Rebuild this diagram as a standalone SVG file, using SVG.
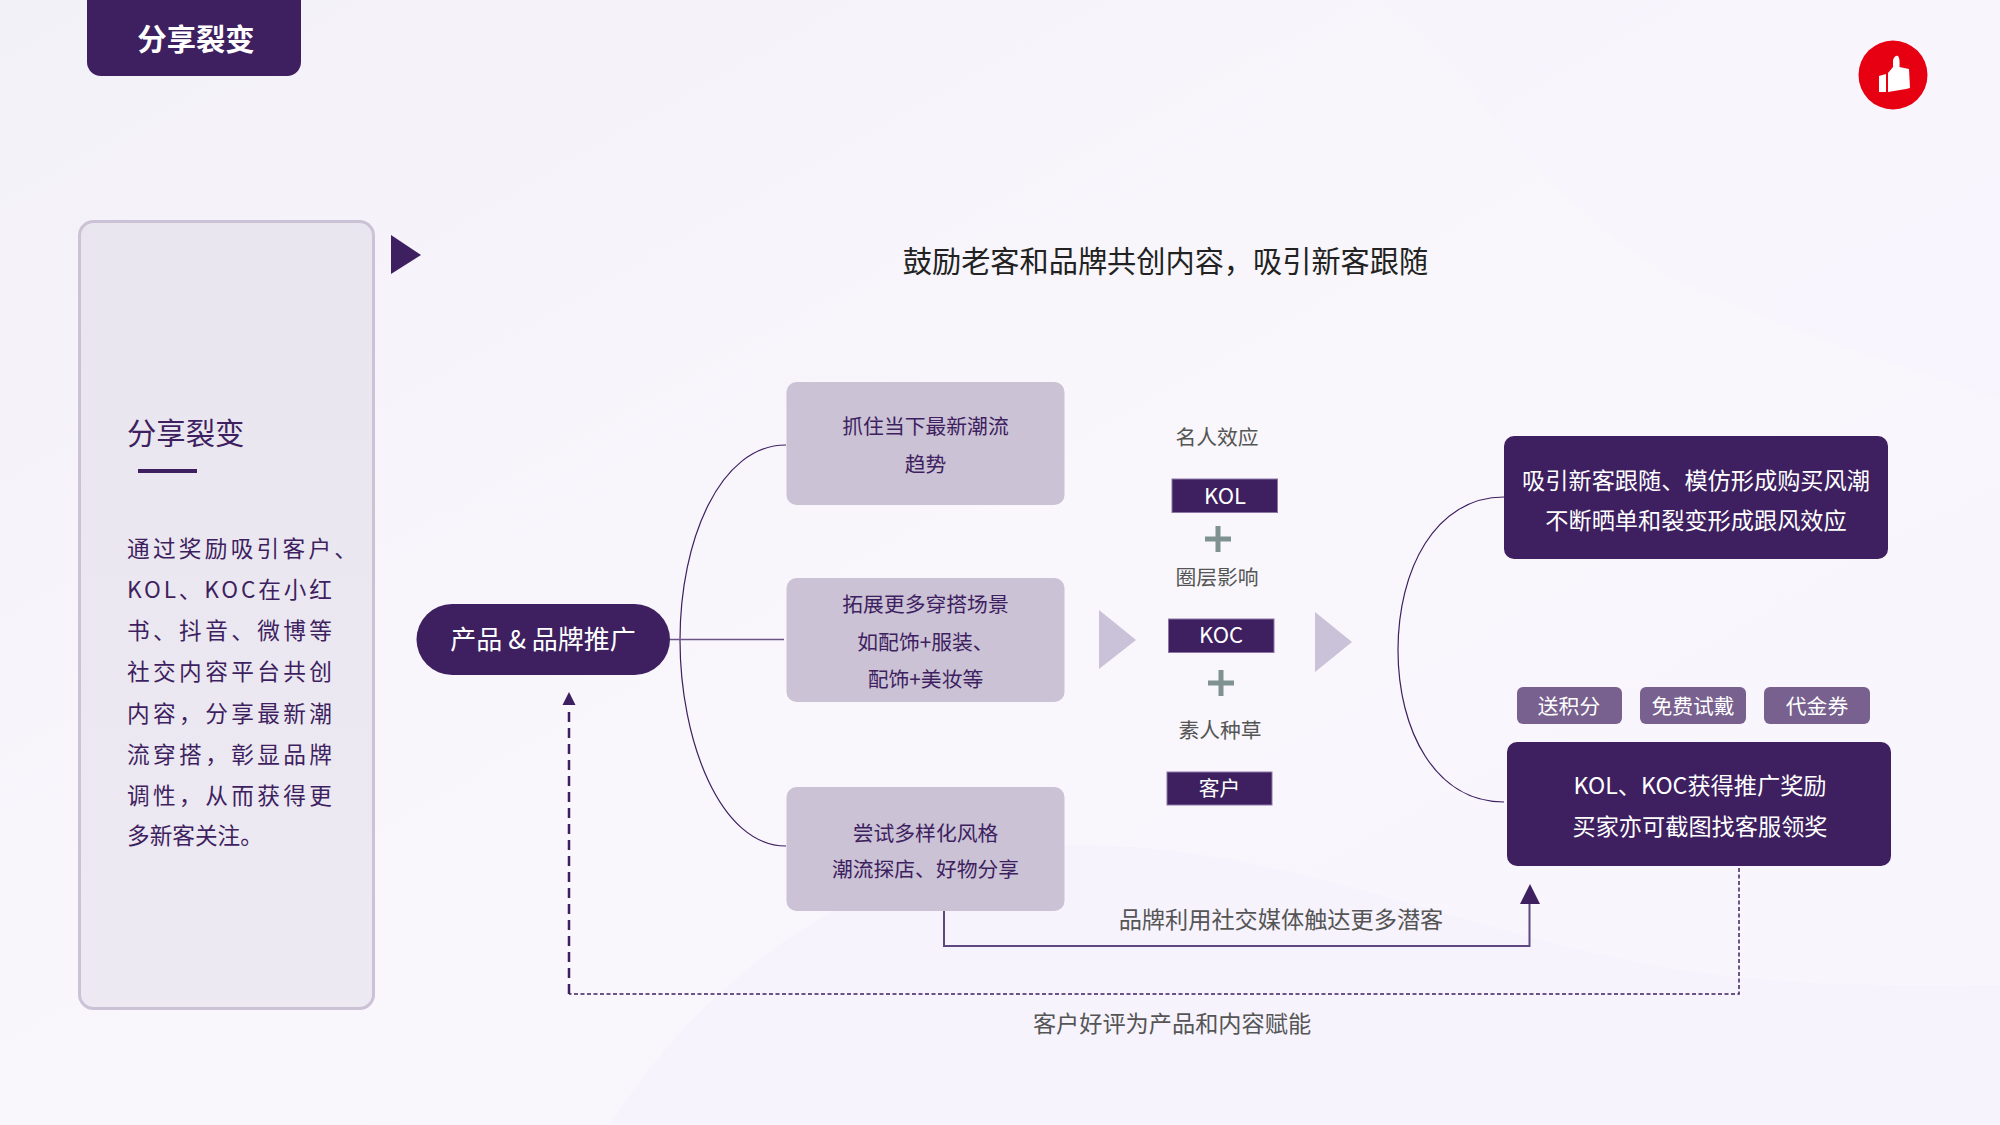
<svg xmlns="http://www.w3.org/2000/svg" width="2000" height="1125" viewBox="0 0 2000 1125">
<defs>
<linearGradient id="bg" x1="0" y1="0" x2="1" y2="1"><stop offset="0" stop-color="#f3f1f8"/><stop offset="0.5" stop-color="#f9f7fc"/><stop offset="1" stop-color="#f8f5fd"/></linearGradient>
<linearGradient id="pf" x1="0" y1="0" x2="0" y2="1"><stop offset="0" stop-color="#e8e4ee"/><stop offset="1" stop-color="#ece8f2"/></linearGradient>
</defs>
<style>
text{font-family:"Noto Sans CJK SC","Noto Sans",sans-serif;text-anchor:middle}
.dark{fill:#3e1f60}
.box{fill:#cbc2d6}
.tag{fill:#3e1f60;stroke:#8d76a6;stroke-width:1}
.chip{fill:#78608f}
.w{fill:#fff}
.p{fill:#3e1f60}
.g{fill:#555}
.t21{font-size:20.8px}
.t22{font-size:22px}
.t23{font-size:23.2px}
.t26{font-size:26px}
.body{font-size:22.67px;text-anchor:start;fill:#3e1f60}
.plus{stroke:#7f9191;stroke-width:5;fill:none}
.tri{fill:#c9c2d8}
.c{fill:none;stroke:#3e1f60;stroke-width:1.2}
</style>
<rect width="2000" height="1125" fill="url(#bg)"/>
<path d="M1380 0C1480 80 1560 230 1700 290C1800 335 1920 370 2000 400V0Z" fill="#f8f4fd" opacity=".8"/>
<path d="M610 1125C720 950 900 845 1080 845C1300 845 1500 950 1720 975C1830 988 1930 985 2000 985V1125Z" fill="#f7f3fd"/>
<g id="header"><path d="M87 0H301V62a14 14 0 0 1-14 14H101a14 14 0 0 1-14-14Z" class="dark"/><text x="196" y="50" class="w" font-size="29.33" font-weight="700">分享裂变</text></g>
<g id="like"><circle cx="1893" cy="75" r="34.5" fill="#e60012"/><path d="M1879 76L1886 74V92L1879 92Z M1888 73L1893 67L1893 60Q1895 55 1898 56Q1900 58 1899.500 67L1909 69L1910 88L1906 89L1888 92Z" fill="#fff"/></g>
<g id="panel"><rect x="79.500" y="221.500" width="294" height="787" rx="14" fill="url(#pf)" fill-opacity=".9" stroke="#cbc2d6" stroke-width="3"/>
<text x="127" y="444" class="p" font-size="29.33" style="text-anchor:start">分享裂变</text>
<rect x="138" y="469" width="59" height="4" class="dark"/>
<text x="127" y="557" class="body" textLength="230">通过奖励吸引客户、</text>
<text x="127" y="598" class="body" textLength="205">KOL、KOC在小红</text>
<text x="127" y="639" class="body" textLength="205">书、抖音、微博等</text>
<text x="127" y="680" class="body" textLength="205">社交内容平台共创</text>
<text x="127" y="722" class="body" textLength="205">内容，分享最新潮</text>
<text x="127" y="763" class="body" textLength="205">流穿搭，彰显品牌</text>
<text x="127" y="804" class="body" textLength="205">调性，从而获得更</text>
<text x="127" y="844" class="body">多新客关注。</text></g>
<g id="title"><path d="M391 235L421 255L391 274Z" class="dark"/><text x="1165.500" y="272" font-size="29.2" fill="#222">鼓励老客和品牌共创内容，吸引新客跟随</text></g>
<g id="connectors">
<path class="c" d="M786 445C720 445 680 540 680 640C680 740 720 846 786 846"/>
<path d="M670 639.500H784" fill="none" stroke="#6b5484" stroke-width="1.600"/>
<path class="c" d="M1504 497C1435 497 1398 570 1398 650C1398 730 1435 802 1504 802"/>
<path d="M944 911V946H1529.500V900" fill="none" stroke="#5f4880" stroke-width="2"/><path d="M1530 884L1540 904H1520Z" class="dark"/>
<path d="M569 994V708" fill="none" stroke="#3e1f60" stroke-width="2.500" stroke-dasharray="10 6"/><path d="M569 692L575.500 705H562.500Z" class="dark"/>
<path d="M1739 868V994H569" fill="none" stroke="#3e1f60" stroke-width="1.500" stroke-dasharray="4 2.500"/>
</g>
<g id="brand"><rect x="416.500" y="604" width="253.500" height="71" rx="35.500" class="dark"/><text x="543" y="649" class="w t26">产品 &amp; 品牌推广</text></g>
<g id="b1"><rect x="786.500" y="382" width="278" height="123" rx="10" class="box"/><text x="925.500" y="434" class="p t21">抓住当下最新潮流</text><text x="925.500" y="472" class="p t21">趋势</text></g>
<g id="b2"><rect x="786.500" y="578" width="278" height="124" rx="10" class="box"/><text x="925.500" y="612" class="p t21">拓展更多穿搭场景</text><text x="925.500" y="650" class="p t21">如配饰+服装、</text><text x="925.500" y="687" class="p t21">配饰+美妆等</text></g>
<g id="b3"><rect x="786.500" y="787" width="278" height="124" rx="10" class="box"/><text x="925.500" y="841" class="p t21">尝试多样化风格</text><text x="925.500" y="877" class="p t21">潮流探店、好物分享</text></g>
<g id="arrows"><path d="M1099 610L1136 640L1099 669Z" class="tri"/><path d="M1315 612L1352 642L1315 672Z" class="tri"/></g>
<g id="mid">
<text x="1217" y="445" class="g t21">名人效应</text>
<g id="kol"><rect x="1172" y="479" width="105.500" height="33.500" class="tag"/><text x="1225" y="504" class="w t22">KOL</text></g>
<path class="plus" d="M1205 539H1231M1218 526V552"/>
<text x="1217" y="585" class="g t21">圈层影响</text>
<g id="koc"><rect x="1168.500" y="619" width="105.500" height="33.500" class="tag"/><text x="1221" y="643" class="w t22">KOC</text></g>
<path class="plus" d="M1208 683H1234M1221 670V696"/>
<text x="1220" y="738" class="g t21">素人种草</text>
<g id="cust"><rect x="1167" y="772" width="105" height="33" class="tag"/><text x="1219.500" y="796" class="w t21">客户</text></g>
</g>
<g id="r1"><rect x="1504" y="436" width="384" height="123" rx="10" class="dark"/><text x="1696" y="489" class="w t23">吸引新客跟随、模仿形成购买风潮</text><text x="1696" y="529" class="w t23">不断晒单和裂变形成跟风效应</text></g>
<g id="chips">
<g><rect x="1517" y="687" width="105" height="37" rx="6" class="chip"/><text x="1569" y="714" class="w t21">送积分</text></g>
<g><rect x="1640" y="687" width="106" height="37" rx="6" class="chip"/><text x="1693" y="714" class="w t21">免费试戴</text></g>
<g><rect x="1764" y="687" width="106" height="37" rx="6" class="chip"/><text x="1817" y="714" class="w t21">代金券</text></g>
</g>
<g id="r2"><rect x="1507" y="742" width="384" height="124" rx="10" class="dark"/><text x="1700" y="794" class="w t23">KOL、KOC获得推广奖励</text><text x="1700" y="835" class="w t23">买家亦可截图找客服领奖</text></g>
<text x="1281" y="928" class="g t23">品牌利用社交媒体触达更多潜客</text>
<text x="1172" y="1032" class="g t23">客户好评为产品和内容赋能</text>
</svg>
